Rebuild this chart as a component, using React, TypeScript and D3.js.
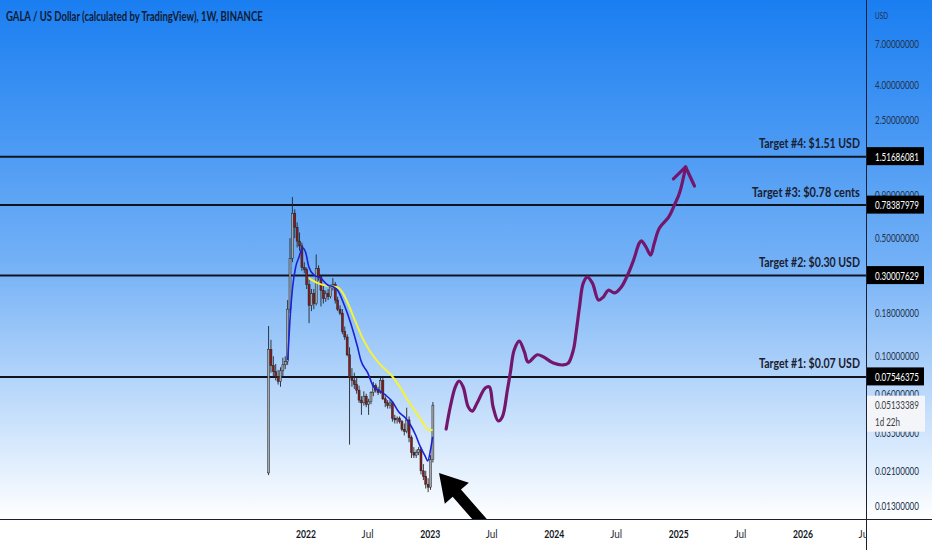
import React, { useEffect, useRef } from 'react';
import * as d3 from 'd3';

// GALA / USD weekly candles, first bar opens on 2021-09-13
const firstBar = '2021-09-13';
const opens = [0.0204, 0.110, 0.088, 0.081, 0.076, 0.071, 0.082, 0.089, 0.093, 0.190, 0.380, 0.700, 0.580, 0.480, 0.450, 0.335, 0.325, 0.265, 0.200, 0.235, 0.205, 0.330, 0.295, 0.245, 0.220, 0.235, 0.225, 0.255, 0.265, 0.215, 0.190, 0.180, 0.140, 0.130, 0.102, 0.075, 0.072, 0.068, 0.063, 0.055, 0.053, 0.058, 0.052, 0.054, 0.061, 0.067, 0.063, 0.061, 0.072, 0.056, 0.053, 0.051, 0.053, 0.043, 0.042, 0.043, 0.041, 0.037, 0.036, 0.042, 0.033, 0.027, 0.026, 0.027, 0.028, 0.021, 0.0195, 0.0175, 0.0168, 0.0245];
const highs = [0.151, 0.125, 0.100, 0.090, 0.083, 0.086, 0.098, 0.100, 0.215, 0.500, 0.875, 0.740, 0.620, 0.540, 0.470, 0.360, 0.335, 0.290, 0.250, 0.250, 0.400, 0.345, 0.300, 0.265, 0.245, 0.250, 0.265, 0.290, 0.275, 0.225, 0.200, 0.190, 0.150, 0.135, 0.113, 0.085, 0.080, 0.076, 0.067, 0.058, 0.062, 0.060, 0.056, 0.062, 0.0705, 0.069, 0.066, 0.075, 0.075, 0.058, 0.055, 0.055, 0.054, 0.045, 0.044, 0.044, 0.042, 0.040, 0.0496, 0.044, 0.034, 0.029, 0.028, 0.029, 0.029, 0.023, 0.021, 0.019, 0.026, 0.0536];
const lows = [0.0198, 0.080, 0.076, 0.072, 0.068, 0.066, 0.076, 0.084, 0.089, 0.180, 0.360, 0.500, 0.440, 0.420, 0.320, 0.310, 0.250, 0.157, 0.185, 0.190, 0.200, 0.280, 0.197, 0.205, 0.210, 0.215, 0.220, 0.245, 0.205, 0.185, 0.175, 0.135, 0.125, 0.100, 0.030, 0.066, 0.064, 0.060, 0.053, 0.045, 0.051, 0.050, 0.045, 0.052, 0.058, 0.061, 0.059, 0.060, 0.055, 0.050, 0.049, 0.049, 0.041, 0.040, 0.040, 0.040, 0.036, 0.034, 0.035, 0.031, 0.025, 0.025, 0.025, 0.026, 0.020, 0.0185, 0.0165, 0.0157, 0.0162, 0.0235];
const closes = [0.110, 0.088, 0.081, 0.076, 0.071, 0.082, 0.089, 0.093, 0.190, 0.380, 0.700, 0.580, 0.480, 0.450, 0.335, 0.325, 0.265, 0.200, 0.235, 0.205, 0.330, 0.295, 0.245, 0.220, 0.235, 0.225, 0.255, 0.265, 0.215, 0.190, 0.180, 0.140, 0.130, 0.102, 0.075, 0.072, 0.068, 0.063, 0.055, 0.053, 0.058, 0.052, 0.054, 0.061, 0.067, 0.063, 0.061, 0.072, 0.056, 0.053, 0.051, 0.053, 0.043, 0.042, 0.043, 0.041, 0.037, 0.036, 0.042, 0.033, 0.027, 0.026, 0.027, 0.028, 0.021, 0.0195, 0.0175, 0.0168, 0.0245, 0.05133389];
const currentPrice = 0.05133389;
const timeLeft = '1d 22h';

// moving averages (week number after first bar, price)
const blueWeeks = [8.05, 8.9, 10.1, 11.4, 12.7, 14.3, 15.6, 16.9, 19.0, 21.9, 24.8, 27.3, 29.0, 31.5, 34.5, 37.4, 38.7, 41.6, 44.1, 46.2, 49.1, 52.1, 54.6, 57.5, 59.6, 61.7, 63.8, 65.9, 66.8, 68.0, 68.9];
const blueValues = [0.095, 0.157, 0.257, 0.338, 0.384, 0.437, 0.410, 0.338, 0.303, 0.290, 0.264, 0.257, 0.246, 0.206, 0.157, 0.113, 0.095, 0.080, 0.066, 0.063, 0.059, 0.0536, 0.047, 0.0431, 0.0392, 0.0343, 0.0290, 0.0254, 0.0240, 0.0279, 0.0333];
const yellowWeeks = [16.9, 20.6, 24.4, 28.6, 31.1, 33.6, 36.6, 39.5, 42.8, 47.0, 51.3, 55.4, 58.4, 61.7, 64.7, 67.2, 68.9];
const yellowValues = [0.290, 0.271, 0.261, 0.257, 0.238, 0.201, 0.159, 0.128, 0.106, 0.089, 0.078, 0.065, 0.0551, 0.0470, 0.0408, 0.0366, 0.0366];

// hand drawn projection
const drawnDates = ['2023-02-17', '2023-03-01', '2023-03-16', '2023-03-27', '2023-04-08', '2023-04-23', '2023-05-05', '2023-05-19', '2023-06-12', '2023-06-24', '2023-07-05', '2023-07-20', '2023-08-01', '2023-08-16', '2023-08-25', '2023-09-05', '2023-09-20', '2023-10-05', '2023-10-16', '2023-11-12', '2023-11-30', '2023-12-29', '2024-01-27', '2024-02-11', '2024-02-26', '2024-03-06', '2024-03-15', '2024-03-26', '2024-04-07', '2024-04-22', '2024-05-10', '2024-05-24', '2024-06-08', '2024-06-26', '2024-07-16', '2024-08-06', '2024-08-21', '2024-09-07', '2024-09-13', '2024-09-28', '2024-10-10', '2024-10-21', '2024-11-05', '2024-12-02', '2024-12-19', '2025-01-03', '2025-01-21'];
const drawnPrices = [0.0371, 0.0501, 0.0658, 0.0714, 0.0658, 0.0501, 0.0474, 0.0529, 0.0649, 0.0658, 0.0501, 0.0414, 0.0437, 0.0632, 0.0807, 0.109, 0.123, 0.106, 0.0924, 0.102, 0.0991, 0.0911, 0.0888, 0.0911, 0.109, 0.143, 0.196, 0.271, 0.294, 0.271, 0.215, 0.224, 0.246, 0.237, 0.257, 0.311, 0.371, 0.468, 0.481, 0.437, 0.397, 0.468, 0.574, 0.665, 0.785, 0.924, 1.318];
const drawnHeadDates = ['2024-12-16', '2025-01-21', '2025-02-16'];
const drawnHeadPrices = [1.12, 1.318, 1.017];

// big black arrow: tip and tail
const arrowDates = ['2023-01-27', '2023-06-26'];
const arrowPrices = [0.0204, 0.00924];

// horizontal target levels
const targetLevels = [1.51686081, 0.78387979, 0.30007629, 0.07546375];
const targetLabels = ['Target #4: $1.51 USD', 'Target #3: $0.78 cents', 'Target #2: $0.30 USD', 'Target #1: $0.07 USD'];

const yTicks = [7, 4, 2.5, 0.9, 0.5, 0.18, 0.1, 0.06, 0.035, 0.021, 0.013];
const xTickDates = ['2022-01-01', '2022-07-01', '2023-01-01', '2023-07-01', '2024-01-01', '2024-07-01', '2025-01-01', '2025-07-01', '2026-01-01', '2026-07-01'];
const xTickLabels = ['2022', 'Jul', '2023', 'Jul', '2024', 'Jul', '2025', 'Jul', '2026', 'Jul'];

const title = 'GALA / US Dollar (calculated by TradingView), 1W, BINANCE';

type Sel = d3.Selection<SVGGElement, unknown, null, undefined>;

// the screenshot is squeezed sideways, so every text is narrowed to its measured width
function addText(
  parent: Sel,
  opts: { x: number; y: number; text: string; width: number; anchor?: string; size?: number; weight?: number; fill: string },
) {
  const t = parent.append('text')
    .attr('x', 0).attr('y', 0)
    .attr('font-family', 'Lato, "Liberation Sans", sans-serif')
    .attr('font-size', opts.size ?? 11.5)
    .attr('font-weight', opts.weight ?? 400)
    .attr('fill', opts.fill)
    .text(opts.text);
  const natural = (t.node() as SVGTextElement).getComputedTextLength() || opts.width;
  const sx = opts.width / natural;
  const left = opts.anchor === 'end' ? opts.x - opts.width : opts.anchor === 'middle' ? opts.x - opts.width / 2 : opts.x;
  t.attr('transform', `translate(${left},${opts.y}) scale(${sx},1)`);
  return t;
}

const App: React.FC = () => {
  const svgRef = useRef<SVGSVGElement>(null);

  useEffect(() => {
    if (!svgRef.current) return;
    const svg = d3.select(svgRef.current);
    svg.selectAll('*').remove();

    const width = 932;
    const height = 550;
    const plotRight = 866;
    const plotBottom = 519;

    const x = d3.scaleUtc()
      .domain([new Date('2022-01-01'), new Date('2026-01-01')])
      .range([306, 803]);
    const y = d3.scaleLog()
      .domain([0.01089, 12.82])
      .range([plotBottom, 0]);

    const start = new Date(firstBar);
    const weekDate = (w: number) => d3.utcHour.offset(start, Math.round(w * 7 * 24));

    const defs = svg.append('defs');
    const grad = defs.append('linearGradient')
      .attr('id', 'bg').attr('x1', 0).attr('y1', 0).attr('x2', 0).attr('y2', 1);
    grad.append('stop').attr('offset', '0%').attr('stop-color', '#1a7ef1');
    grad.append('stop').attr('offset', '50%').attr('stop-color', '#72b0f6');
    grad.append('stop').attr('offset', '100%').attr('stop-color', '#ffffff');
    defs.append('clipPath').attr('id', 'plotClip')
      .append('rect').attr('width', plotRight).attr('height', plotBottom);
    defs.append('clipPath').attr('id', 'xClip')
      .append('rect').attr('width', plotRight).attr('height', height);

    svg.append('rect').attr('width', width).attr('height', height).attr('fill', '#ffffff');
    svg.append('rect').attr('width', width).attr('height', plotBottom).attr('fill', 'url(#bg)');

    const root = svg.append('g') as unknown as Sel;
    const plot = svg.append('g').attr('clip-path', 'url(#plotClip)') as unknown as Sel;

    // target lines
    targetLevels.forEach((v, i) => {
      plot.append('line')
        .attr('x1', 0).attr('x2', plotRight)
        .attr('y1', y(v)).attr('y2', y(v))
        .attr('stroke', '#0f1520').attr('stroke-width', 2);
      addText(plot, {
        x: 860, y: y(v) - 8.5, text: targetLabels[i], width: i === 1 ? 108 : 101,
        anchor: 'end', size: 12.5, weight: 700, fill: '#1a2030',
      });
    });

    // candles
    const bars = opens.map((o, i) => ({
      date: d3.utcDay.offset(start, i * 7), o, h: highs[i], l: lows[i], c: closes[i],
    }));
    const bw = 2;
    bars.forEach(b => {
      const cx = x(b.date);
      const up = b.c >= b.o;
      plot.append('line')
        .attr('x1', cx).attr('x2', cx)
        .attr('y1', y(b.h)).attr('y2', y(b.l))
        .attr('stroke', '#23262b').attr('stroke-width', 0.9);
      const top = y(Math.max(b.o, b.c));
      const bot = y(Math.min(b.o, b.c));
      plot.append('rect')
        .attr('x', cx - bw / 2).attr('width', bw)
        .attr('y', top).attr('height', Math.max(1, bot - top))
        .attr('fill', up ? '#a3a8ae' : '#8c1a1a')
        .attr('stroke', '#1e2124').attr('stroke-width', 0.5);
    });

    // moving averages
    const maLine = d3.line<[number, number]>()
      .x(d => x(weekDate(d[0])))
      .y(d => y(d[1]))
      .curve(d3.curveMonotoneX);
    plot.append('path')
      .datum(yellowWeeks.map((w, i) => [w, yellowValues[i]] as [number, number]))
      .attr('fill', 'none').attr('stroke', '#f4f23c').attr('stroke-width', 2)
      .attr('d', maLine);
    plot.append('path')
      .datum(blueWeeks.map((w, i) => [w, blueValues[i]] as [number, number]))
      .attr('fill', 'none').attr('stroke', '#1a22d8').attr('stroke-width', 1.6)
      .attr('d', maLine);

    // hand drawn projection
    const drawn = d3.line<[Date, number]>()
      .x(d => x(d[0]))
      .y(d => y(d[1]))
      .curve(d3.curveCatmullRom.alpha(0.5));
    plot.append('path')
      .datum(drawnDates.map((d, i) => [new Date(d), drawnPrices[i]] as [Date, number]))
      .attr('fill', 'none').attr('stroke', '#74166b').attr('stroke-width', 3.2)
      .attr('stroke-linecap', 'round').attr('stroke-linejoin', 'round')
      .attr('d', drawn);
    plot.append('path')
      .datum(drawnHeadDates.map((d, i) => [new Date(d), drawnHeadPrices[i]] as [Date, number]))
      .attr('fill', 'none').attr('stroke', '#74166b').attr('stroke-width', 3.2)
      .attr('stroke-linecap', 'round').attr('stroke-linejoin', 'round')
      .attr('d', d3.line<[Date, number]>().x(d => x(d[0])).y(d => y(d[1])));

    // black arrow
    const tip = [x(new Date(arrowDates[0])), y(arrowPrices[0])];
    const tail = [x(new Date(arrowDates[1])), y(arrowPrices[1])];
    const len = Math.hypot(tail[0] - tip[0], tail[1] - tip[1]);
    const ux = (tail[0] - tip[0]) / len;
    const uy = (tail[1] - tip[1]) / len;
    const nx = -uy;
    const ny = ux;
    const headLen = 27;
    const headHalf = 16;
    const shaftHalf = 5.5;
    const hb = [tip[0] + ux * headLen, tip[1] + uy * headLen];
    const pts = [
      tip,
      [hb[0] + nx * headHalf, hb[1] + ny * headHalf],
      [hb[0] + nx * shaftHalf, hb[1] + ny * shaftHalf],
      [tail[0] + nx * shaftHalf, tail[1] + ny * shaftHalf],
      [tail[0] - nx * shaftHalf, tail[1] - ny * shaftHalf],
      [hb[0] - nx * shaftHalf, hb[1] - ny * shaftHalf],
      [hb[0] - nx * headHalf, hb[1] - ny * headHalf],
    ];
    plot.append('polygon')
      .attr('points', pts.map(p => p.join(',')).join(' '))
      .attr('fill', '#000000');

    // axes borders
    root.append('line')
      .attr('x1', plotRight + 0.5).attr('x2', plotRight + 0.5)
      .attr('y1', 0).attr('y2', height)
      .attr('stroke', '#1c2030').attr('stroke-width', 1);
    root.append('line')
      .attr('x1', 0).attr('x2', width)
      .attr('y1', plotBottom + 0.5).attr('y2', plotBottom + 0.5)
      .attr('stroke', '#1c2030').attr('stroke-width', 1);

    const labels = svg.append('g') as unknown as Sel;

    // title
    addText(labels, { x: 6, y: 21, text: title, width: 257, size: 12.5, weight: 700, fill: '#0f1b33' });

    // y axis
    addText(labels, { x: 875, y: 19, text: 'USD', width: 13, size: 10, fill: '#22324d' });
    yTicks.forEach(v => {
      addText(labels, { x: 875, y: y(v) + 4, text: v.toFixed(8), width: 44, fill: '#22324d' });
    });

    // level price boxes
    targetLevels.forEach(v => {
      labels.append('rect')
        .attr('x', plotRight + 1).attr('y', y(v) - 9.5)
        .attr('width', 57).attr('height', 18)
        .attr('fill', '#000000');
      addText(labels, { x: 875, y: y(v) + 4, text: v.toFixed(8), width: 44, fill: '#ffffff' });
    });

    // current price box
    const cy = y(currentPrice);
    labels.append('rect')
      .attr('x', plotRight + 1).attr('y', cy - 9.5)
      .attr('width', 58).attr('height', 36)
      .attr('fill', '#f3f5f8');
    addText(labels, { x: 875, y: cy + 4, text: currentPrice.toFixed(8), width: 44, fill: '#3a3d42' });
    addText(labels, { x: 875, y: cy + 21, text: timeLeft, width: 25, fill: '#3a3d42' });

    // x axis
    const xg = svg.append('g').attr('clip-path', 'url(#xClip)') as unknown as Sel;
    xTickDates.forEach((d, i) => {
      const isYear = xTickLabels[i] !== 'Jul';
      addText(xg, {
        x: x(new Date(d)), y: 538, text: xTickLabels[i], width: isYear ? 20 : 12,
        anchor: 'middle', weight: isYear ? 700 : 400, fill: isYear ? '#131722' : '#2a2e39',
      });
    });
  }, []);

  return (
    <svg
      ref={svgRef}
      width={932}
      height={550}
      style={{ position: 'absolute', left: 0, top: 0, display: 'block' }}
    />
  );
};

export default App;
